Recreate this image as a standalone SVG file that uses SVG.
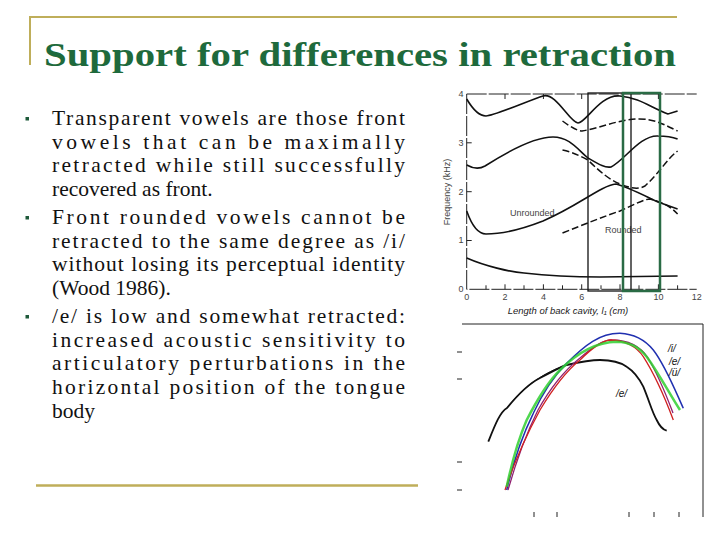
<svg xmlns="http://www.w3.org/2000/svg" width="720" height="540" viewBox="0 0 720 540">
<style>
.ax{fill:none;stroke:#222;stroke-width:1}
.c{fill:none;stroke:#111;stroke-width:1.6}
.d{fill:none;stroke:#111;stroke-width:1.5;stroke-dasharray:7 3}
.s{font-family:'Liberation Sans',sans-serif;font-size:9px;fill:#444}
.l{font-family:'Liberation Sans',sans-serif;font-size:10px;font-style:italic;fill:#111}
</style>
<rect width="720" height="540" fill="#fff"/>
<g id="title">
<path d="M30 65V17H677" fill="none" stroke="#bfae5a" stroke-width="2"/>
<text x="44" y="66" font-family="Liberation Serif,serif" font-weight="bold" font-size="34" fill="#1e6a3c" textLength="632" lengthAdjust="spacingAndGlyphs">Support for differences in retraction</text>
</g>
<g id="bullets">
<rect x="25.5" y="117" width="3.5" height="3.5" fill="#1e5a3a"/>
<rect x="25.5" y="216" width="3.5" height="3.5" fill="#1e5a3a"/>
<rect x="25.5" y="315" width="3.5" height="3.5" fill="#1e5a3a"/>
<g font-family="Liberation Serif,serif" font-size="21.5" fill="#111">
<text x="52" y="125" textLength="353" lengthAdjust="spacing">Transparent vowels are those front</text>
<text x="52" y="149" textLength="353" lengthAdjust="spacing">vowels that can be maximally</text>
<text x="52" y="172" textLength="353" lengthAdjust="spacing">retracted while still successfully</text>
<text x="52" y="196">recovered as front.</text>
<text x="52" y="224" textLength="353" lengthAdjust="spacing">Front rounded vowels cannot be</text>
<text x="52" y="248" textLength="353" lengthAdjust="spacing">retracted to the same degree as /i/</text>
<text x="52" y="271" textLength="353" lengthAdjust="spacing">without losing its perceptual identity</text>
<text x="52" y="295">(Wood 1986).</text>
<text x="52" y="323" textLength="353" lengthAdjust="spacing">/e/ is low and somewhat retracted:</text>
<text x="52" y="347" textLength="353" lengthAdjust="spacing">increased acoustic sensitivity to</text>
<text x="52" y="370" textLength="353" lengthAdjust="spacing">articulatory perturbations in the</text>
<text x="52" y="394" textLength="353" lengthAdjust="spacing">horizontal position of the tongue</text>
<text x="52" y="418">body</text>
</g>
<path d="M36 485.5H418" stroke="#bfae5a" stroke-width="2.5"/>
</g>
<g id="formant-chart">
<path class="ax" d="M466.7 94V289.3H696.7M466.7 94H696.7" stroke-dasharray="20 2"/>
<path class="ax" d="M486 289.3v-4M505 289.3v-5M524 289.3v-4M543.4 289.3v-5M562.5 289.3v-4M581.7 289.3v-5M601 289.3v-4M620 289.3v-5M639 289.3v-4M658.4 289.3v-5M677.6 289.3v-4M466.7 240.5h5M466.7 191.7h5M466.7 142.8h5M505 94v5M543.4 94v5M581.7 94v5M658.4 94v5"/>
<g class="s" text-anchor="middle">
<text x="466.7" y="300">0</text><text x="505" y="300">2</text><text x="543.4" y="300">4</text><text x="581.7" y="300">6</text><text x="620" y="300">8</text><text x="658.4" y="300">10</text><text x="696.7" y="300">12</text>
<text x="461" y="292">0</text><text x="461" y="243">1</text><text x="461" y="195">2</text><text x="461" y="146">3</text><text x="461" y="97">4</text>
<text x="450" y="192" transform="rotate(-90 450 192)">Frequency (kHz)</text>
<text x="510" y="216" text-anchor="start">Unrounded</text>
<text x="605" y="233" text-anchor="start">Rounded</text>
</g>
<text x="568" y="314" text-anchor="middle" font-family="Liberation Sans,sans-serif" font-size="9.5" font-style="italic" fill="#222">Length of back cavity, l₁ (cm)</text>
<path class="c" d="M466.7 99C472 108 478 116 486 116S530 100 543 96S570 123 578 123S600 94 620 96S650 107 668 114L677.6 111"/>
<path class="d" d="M562.5 121C572 128 578 131 582 131C600 128 620 119 639 119C655 119 665 125 677.6 131"/>
<path class="c" d="M466.7 165C472 168 478 170 485 166C510 150 535 137 553 137C570 137 578 150 588 158C600 165 605 168 611 167C625 160 640 135 658 136C668 136 675 138 677.6 139"/>
<path class="d" d="M562.5 150C572 152 578 155 588 160C600 172 610 180 620 184C630 188 638 190 645 186C660 172 668 158 677.6 151"/>
<path class="c" d="M466.7 211C472 226 478 234 486 234C500 234 520 230 543 221C580 205 600 186 616 184C628 187 645 196 658 202L677.6 209"/>
<path class="d" d="M562.5 233C585 224 605 216 620 211C635 204 645 199 650 199C662 202 670 206 677.6 214"/>
<path class="c" d="M466.7 258C485 266 510 272 524 273C550 276 570 277 600 277L677.6 276"/>
<rect x="588" y="93" width="43" height="198" fill="none" stroke="#111" stroke-width="1.3"/>
<rect x="623" y="93" width="37" height="198" fill="none" stroke="#2a6b45" stroke-width="2.5"/>
</g>
<g id="tongue-chart">
<path class="ax" d="M462 324H703V517"/>
<path class="ax" d="M457 352h5M457 379h5M457 462h5M457 490h5M534 512v5M557 512v5M629 512v5M654 512v5M679 512v5"/>
<path fill="none" stroke="#111" stroke-width="1.8" d="M488.3 441.7C495 425 500 412 507 408C520 392 530 383 540 378C555 370 566 365 566.7 365C580 362 590 360 600 360C612 360 620 362 626.7 366.7C635 372 640 380 643.3 386.7C650 403 652 412 656.7 420C660 427 664 430 666.7 430.7"/>
<path fill="none" stroke="#111" stroke-width="1" d="M507 408C525 385 545 372 566.7 365"/>
<path fill="none" stroke="#2030b0" stroke-width="1.5" d="M506.7 490C515 455 525 430 533.3 413.3C545 388 555 375 566.7 363.3C585 345 600 333 620 333.3C635 334 645 340 653.3 350C665 365 675 390 683.3 408.3"/>
<path fill="none" stroke="#902070" stroke-width="1.3" d="M508 490C518 455 528 430 538 410C552 385 565 370 580 358C595 345 605 339 612 340C628 340 640 346 648 358C660 378 668 400 673 413"/>
<path fill="none" stroke="#d02020" stroke-width="1.3" d="M505 490C515 460 528 432 540 410C552 390 565 372 580 360C592 348 602 341 610 340C625 340 637 347 643.3 356.7C655 375 665 398 673.3 420"/>
<path fill="none" stroke="#30d030" stroke-width="2.5" opacity="0.85" d="M506.7 486.7C512 462 518 440 526.7 420C538 398 548 382 560 370C578 352 598 342 616.7 341.7C630 342 640 348 646.7 356.7C660 375 670 395 680 410"/>
<g class="l">
<text x="668" y="352">/i/</text><text x="669" y="365">/e/</text><text x="669" y="376">/ü/</text><text x="616" y="397">/e/</text>
</g>
</g>
</svg>
